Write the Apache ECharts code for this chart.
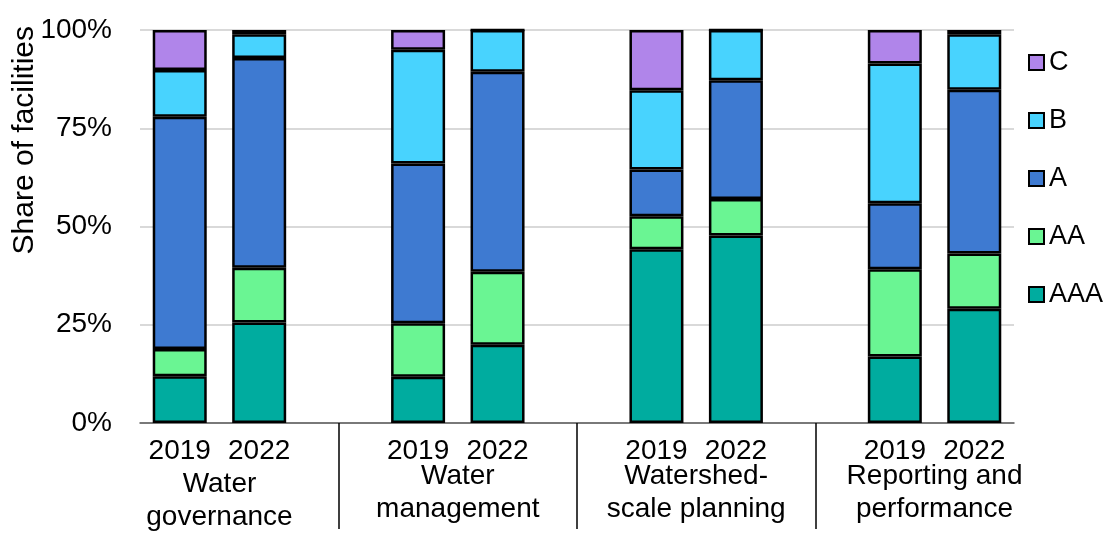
<!DOCTYPE html>
<html>
<head>
<meta charset="utf-8">
<script src="https://cdn.jsdelivr.net/npm/echarts@6/dist/echarts.min.js"></script>
<style>
html,body{margin:0;padding:0;background:#fff;}
#chart{width:1110px;height:534px;}
</style>
</head>
<body>
<div id="chart"></div>
<script>
const groupLabels = ['Water\ngovernance', 'Water\nmanagement', 'Watershed-\nscale planning', 'Reporting and\nperformance'];
const years = ['2019', '2022'];
const ratingNames = ['AAA', 'AA', 'A', 'B', 'C'];
const ratingColors = ['#00ac9f', '#6af593', '#3e7ad1', '#48d3fe', '#b085ea'];
// values per bar: group1 2019, 2022, group2 2019, 2022, ...
const AAA = [11.9, 25.6, 11.8, 19.9, 44.2, 47.7, 16.9, 29.1];
const AA  = [6.9, 13.9, 13.6, 18.6, 8.4, 9.3, 22.2, 14.0];
const A   = [59.1, 53.4, 40.6, 50.9, 11.9, 30.2, 16.8, 41.7];
const B   = [11.9, 6.0, 29.0, 10.6, 20.2, 12.8, 35.6, 14.1];
const C   = [10.2, 1.1, 5.0, 0, 15.3, 0, 8.5, 1.1];
const yTicks = [0, 25, 50, 75, 100];

const seriesValues = [AAA, AA, A, B, C];
const FONT = '"Liberation Sans", Arial, sans-serif';

// build slots with gap categories between groups
const categories = [];
const yearLabels = [];
const barIndex = [];
groupLabels.forEach((g, gi) => {
  years.forEach((y, yi) => {
    categories.push('g' + gi + '-' + y);
    yearLabels.push(y);
    barIndex.push(gi * years.length + yi);
  });
  if (gi < groupLabels.length - 1) {
    categories.push('gap' + gi);
    yearLabels.push('');
    barIndex.push(-1);
  }
});
const nSlots = categories.length;

const series = ratingNames.map((name, si) => ({
  name: name,
  type: 'bar',
  stack: 'total',
  barWidth: 54,
  data: barIndex.map(bi => bi < 0 ? null : seriesValues[si][bi]),
  itemStyle: { color: ratingColors[si], borderColor: '#000', borderWidth: 2.5 },
  emphasis: { disabled: true }
}));

function groupAxis(which, margin) {
  return {
    type: 'value', min: 0, max: nSlots, interval: 1,
    position: 'bottom',
    axisLine: { show: false }, axisTick: { show: false }, splitLine: { show: false },
    axisLabel: {
      margin: margin,
      color: '#000', fontSize: 28, fontFamily: FONT, lineHeight: 33,
      showMinLabel: true, showMaxLabel: true,
      formatter: function (v) {
        const r = Math.round(v) - 1;
        if (r % 3 !== 0 || r < 0) return '';
        const gi = r / 3;
        if (!which(gi)) return '';
        return groupLabels[gi];
      }
    }
  };
}

const chart = echarts.init(document.getElementById('chart'), null, { renderer: 'canvas' });
chart.setOption({
  animation: false,
  backgroundColor: '#fff',
  textStyle: { fontFamily: FONT },
  grid: { left: 140, right: 96, top: 30, bottom: 110, containLabel: false },
  legend: {
    orient: 'vertical',
    left: 1023,
    top: 44,
    itemGap: 31,
    itemWidth: 15,
    itemHeight: 15,
    icon: 'rect',
    data: ratingNames.slice().reverse(),
    textStyle: { color: '#000', fontSize: 27, fontFamily: FONT, padding: [0, 0, 0, 0] },
    itemStyle: { borderColor: '#000', borderWidth: 2 },
    selectedMode: false
  },
  xAxis: [
    {
      type: 'category',
      data: categories,
      axisLine: { show: true, lineStyle: { color: '#595959', width: 1.5 } },
      axisTick: {
        show: true, alignWithLabel: true, inside: false, length: 106,
        interval: function (i) { return barIndex[i] < 0; },
        lineStyle: { color: '#000', width: 1.5 }
      },
      axisLabel: {
        interval: 0, margin: 14, color: '#000', fontSize: 28, fontFamily: FONT,
        formatter: function (v, i) { return yearLabels[i]; }
      }
    },
    groupAxis(gi => gi > 0, 37),
    groupAxis(gi => gi === 0, 45)
  ],
  yAxis: {
    type: 'value', min: yTicks[0], max: yTicks[yTicks.length - 1], interval: 25,
    axisLine: { show: false }, axisTick: { show: false },
    splitLine: { lineStyle: { color: '#d9d9d9', width: 2 } },
    axisLabel: { margin: 28, color: '#000', fontSize: 28, fontFamily: FONT, formatter: '{value}%' }
  },
  graphic: [{
    type: 'text',
    left: 10, top: 26,
    rotation: Math.PI / 2,
    style: { text: 'Share of facilities', fill: '#000', fontSize: 30, fontFamily: FONT }
  }],
  series: series
});
</script>
</body>
</html>
